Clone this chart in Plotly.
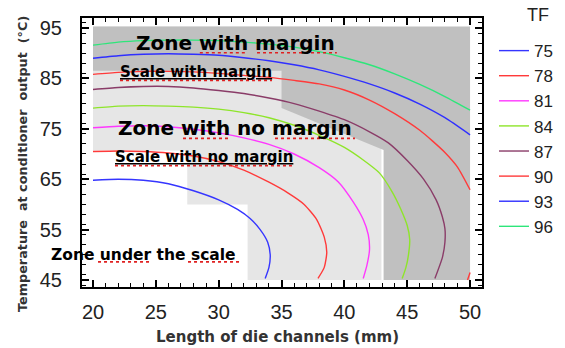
import plotly.graph_objects as go

# ---------------- data ----------------
TF_LEVELS = [75, 78, 81, 84, 87, 90, 93, 96]
TF_COLORS = ["#3535ff", "#ff3a3a", "#ff38ff", "#8ee52a", "#8a3c68", "#ff3a3a", "#2f2fff", "#2ee67a"]

C75_X = [20, 22, 24, 26, 28, 30, 31.5, 32.5, 33.3, 33.9, 34.1, 34.0, 33.7]
C75_Y = [64.8, 65.0, 64.8, 64.1, 62.7, 60.9, 59.0, 57.2, 55.0, 52.5, 50.0, 47.5, 45.3]

C78_X = [20, 22, 24, 26, 28, 30, 32, 34, 35.5, 36.8, 37.8, 38.4, 38.6, 38.4, 37.9]
C78_Y = [70.5, 70.6, 70.5, 70.2, 69.6, 68.5, 66.8, 64.4, 62.3, 60.0, 57.0, 53.5, 50.5, 47.5, 45.3]

C81_X = [20, 22, 24, 26, 28, 30, 32, 34, 36, 38, 39.5, 40.7, 41.5, 41.9, 42.0, 41.8, 41.5]
C81_Y = [75.2, 75.5, 75.6, 75.4, 74.9, 74.2, 73.2, 71.9, 70.0, 67.3, 64.5, 60.5, 57.0, 54.0, 51.0, 48.0, 45.3]

C84_X = [20, 22, 24, 26, 28, 30, 32, 34, 36, 38, 40, 41.5, 42.8, 43.8, 44.5, 45.0, 45.2, 45.1, 44.9, 44.6]
C84_Y = [79.1, 79.5, 79.6, 79.5, 79.3, 78.9, 78.2, 77.2, 75.7, 73.7, 71.3, 68.8, 66.2, 62.5, 59.0, 55.8, 53.0, 50.0, 47.5, 45.3]

C87_X = [20, 22, 24, 26, 28, 30, 32, 34, 36, 38, 40, 42, 43.5, 45, 46.3, 47.3, 47.8, 48.0, 48.0, 47.8, 47.2]
C87_Y = [82.8, 83.2, 83.4, 83.4, 83.1, 82.6, 82.0, 81.1, 80.0, 78.5, 76.8, 74.4, 72.2, 68.7, 65.0, 60.9, 57.5, 55.2, 52.5, 49.5, 45.3]

C90_X = [20, 22, 24, 26, 28, 30, 32, 34, 36, 38, 40, 42, 44, 46, 47, 48, 49, 50]
C90_Y = [85.8, 86.2, 86.4, 86.4, 86.3, 86.0, 85.6, 85.2, 84.6, 83.9, 82.7, 80.7, 78.0, 74.7, 72.6, 70.3, 67.4, 62.9]
C90B_X = [49.8, 50.0]
C90B_Y = [45.0, 46.5]

C93_X = [20, 22, 24, 26, 28, 30, 32, 34, 36, 38, 40, 42, 44, 46, 48, 50]
C93_Y = [89.0, 89.5, 89.8, 89.9, 89.8, 89.6, 89.1, 88.5, 87.7, 86.7, 85.4, 83.9, 82.1, 79.9, 77.2, 73.8]

C96_X = [20, 22, 24, 26, 28, 30, 32, 34, 36, 38, 40, 42, 44, 46, 48, 50]
C96_Y = [91.6, 92.2, 92.5, 92.6, 92.6, 92.5, 92.2, 91.8, 91.2, 90.3, 89.1, 87.7, 85.9, 83.8, 81.4, 78.7]

CURVES_X = [C75_X, C78_X, C81_X, C84_X, C87_X, C90_X, C93_X, C96_X]
CURVES_Y = [C75_Y, C78_Y, C81_Y, C84_Y, C87_Y, C90_Y, C93_Y, C96_Y]

# zones
LIGHT_X = [20, 42.95, 42.95, 32.3, 32.3, 27.5, 27.5, 20]
LIGHT_Y = [95.3, 95.3, 45, 45, 60, 60, 70.7, 70.7]
DARK_X = [20, 50, 50, 43.12, 43.12, 35, 35, 20]
DARK_Y = [95.3, 95.3, 45, 45, 70.8, 79.1, 86.5, 86.5]

# zone labels: text, x, y, size, underlined
LABELS = [
    ("Zone with margin", 31.3, 92.0, 20, False),
    ("Scale with margin", 28.2, 86.3, 15, True),
    ("Zone with no margin", 31.3, 75.2, 20, False),
    ("Scale with no margin", 28.8, 69.4, 15, True),
    ("Zone under the scale", 24.0, 50.0, 15.5, False),
]
# red spell-check underlines: x0, x1, y
SQUIGGLES = [
    (28.5, 32.25, 90.1), (33.05, 39.4, 90.1),
    (22.15, 34.24, 84.6),
    (27.16, 30.9, 73.1), (34.48, 40.84, 73.1),
    (21.75, 35.83, 67.7),
    (20.4, 24.69, 48.6), (27.56, 31.85, 48.6),
]

X_RANGE = [19.125, 50.95]
Y_RANGE = [43.61, 96.98]

# ---------------- figure ----------------
fig = go.Figure()

fig.add_trace(go.Scatter(x=LIGHT_X, y=LIGHT_Y, fill="toself", fillcolor="#e6e6e6",
                         line=dict(width=0), mode="lines", showlegend=False, hoverinfo="skip"))
fig.add_trace(go.Scatter(x=DARK_X, y=DARK_Y, fill="toself", fillcolor="#c0c0c0",
                         line=dict(width=0), mode="lines", showlegend=False, hoverinfo="skip"))

for lvl, col, xs, ys in zip(TF_LEVELS, TF_COLORS, CURVES_X, CURVES_Y):
    fig.add_trace(go.Scatter(x=xs, y=ys, mode="lines", name=str(lvl),
                             line=dict(color=col, width=1.4, shape="spline", smoothing=0.6)))
    if lvl == 90:
        fig.add_trace(go.Scatter(x=C90B_X, y=C90B_Y, mode="lines", name="90",
                                 line=dict(color=col, width=1.4), showlegend=False))

for x0, x1, y in SQUIGGLES:
    fig.add_shape(type="line", x0=x0, x1=x1, y0=y, y1=y, xref="x", yref="y",
                  line=dict(color="#e02020", width=1.6, dash="dot"), layer="above")

for text, x, y, size, und in LABELS:
    fnt = dict(family="DejaVu Sans", size=size, color="#000000")
    if und:
        fnt["lineposition"] = "under"
    fig.add_annotation(x=x, y=y, xref="x", yref="y", text="<b>%s</b>" % text,
                       showarrow=False, font=fnt, xanchor="center", yanchor="middle")

# axis titles and legend title
fig.add_annotation(x=0.4875, y=-0.186, xref="paper", yref="paper",
                   text="<b>Length of die channels (mm)</b>", showarrow=False,
                   font=dict(family="DejaVu Sans", size=15, color="#333333"),
                   xanchor="center", yanchor="middle")
fig.add_annotation(x=-0.15, y=0.457, xref="paper", yref="paper", textangle=-90,
                   text="<b>Temperature\u00a0\u00a0at conditioner\u00a0\u00a0output\u00a0\u00a0(°C)</b>",
                   showarrow=False,
                   font=dict(family="DejaVu Sans", size=12.8, color="#333333"),
                   xanchor="center", yanchor="middle")
fig.add_annotation(x=1.139, y=1.011, xref="paper", yref="paper", text="TF",
                   showarrow=False, font=dict(family="Liberation Sans, Arial", size=18, color="#222222"),
                   xanchor="center", yanchor="middle")

axis_common = dict(showline=True, linewidth=2, linecolor="#000000", mirror="ticks",
                   ticks="inside", tickcolor="#000000", tickwidth=1.5, ticklen=7,
                   showgrid=False, zeroline=False,
                   tickfont=dict(family="Liberation Sans, Arial", size=20, color="#222222"))

fig.update_xaxes(range=X_RANGE, tick0=20, dtick=5, ticklabelstandoff=6,
                 minor=dict(dtick=1, ticks="inside", ticklen=4, tickcolor="#000000", tickwidth=1.2),
                 **axis_common)
fig.update_yaxes(range=Y_RANGE, tick0=45, dtick=10, ticklabelstandoff=14,
                 minor=dict(dtick=2, ticks="inside", ticklen=4, tickcolor="#000000", tickwidth=1.2),
                 **axis_common)

fig.update_layout(
    width=565, height=348,
    margin=dict(l=82, r=83, t=18, b=61, autoexpand=False),
    paper_bgcolor="white", plot_bgcolor="white",
    legend=dict(x=1.03, y=0.944, xanchor="left", yanchor="top",
                font=dict(family="Liberation Sans, Arial", size=17, color="#222222"),
                bgcolor="rgba(0,0,0,0)", borderwidth=0, itemwidth=30, tracegroupgap=0),
)

fig.write_html("out.html", config={"displayModeBar": False})
